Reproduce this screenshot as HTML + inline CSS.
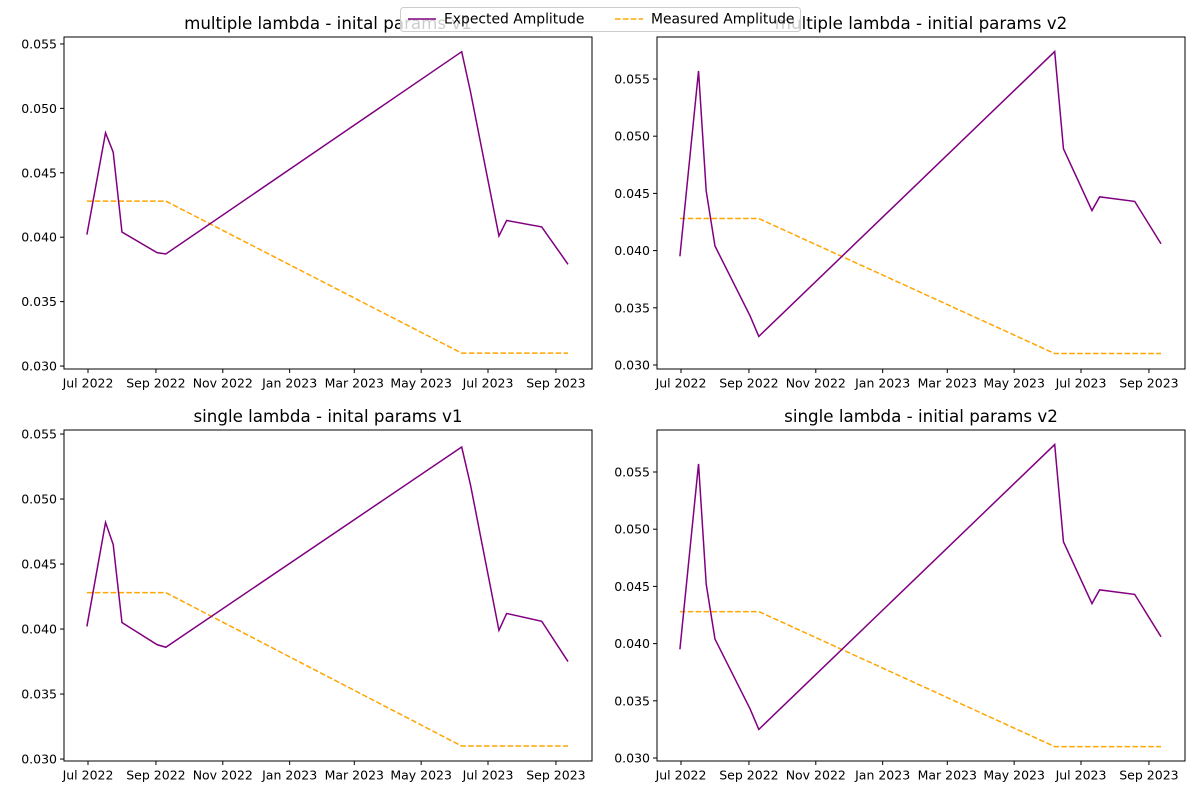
<!DOCTYPE html>
<html><head><meta charset="utf-8"><style>
body{margin:0;background:#fff;}
svg{font-family:"DejaVu Sans","Liberation Sans",sans-serif;}
</style></head><body>
<svg id="fig" width="1200" height="800" xmlns="http://www.w3.org/2000/svg"></svg>
<script>
const tickDays=[0,62,123,184,243,304,365,427];
const tickLabels=["Jul 2022","Sep 2022","Nov 2022","Jan 2023","Mar 2023","May 2023","Jul 2023","Sep 2023"];
const expDays=[-1,16,23,31,63,71,341,349,375,382,414,438];
const measDays=[-1,71,341,438];
const measVals=[0.0428,0.0428,0.0310,0.0310];
const expV1top=[0.0402,0.0481,0.0466,0.0404,0.0388,0.0387,0.0544,0.0513,0.0401,0.0413,0.0408,0.0379];
const expV2top=[0.0395,0.0557,0.0452,0.0404,0.0343,0.0325,0.0574,0.0489,0.0435,0.0447,0.0443,0.0406];
const expV1bot=[0.0402,0.0482,0.0465,0.0405,0.0388,0.0386,0.0540,0.0511,0.0399,0.0412,0.0406,0.0375];
const expV2bot=[0.0395,0.0557,0.0452,0.0404,0.0343,0.0325,0.0574,0.0489,0.0435,0.0447,0.0443,0.0406];
const yTicks=[0.030,0.035,0.040,0.045,0.050,0.055];
const panels=[
 {name:"top-left",title:"multiple lambda - inital params v1",x0:64,x1:592,y0:37,y1:369,ymin:0.02977,ymax:0.05554,vals:expV1top},
 {name:"top-right",title:"multiple lambda - initial params v2",x0:657,x1:1185,y0:37,y1:369,ymin:0.02965,ymax:0.05867,vals:expV2top},
 {name:"bottom-left",title:"single lambda - inital params v1",x0:64,x1:592,y0:430,y1:761,ymin:0.02985,ymax:0.05531,vals:expV1bot},
 {name:"bottom-right",title:"single lambda - initial params v2",x0:657,x1:1185,y0:430,y1:761,ymin:0.02974,ymax:0.05867,vals:expV2bot}
];
const NS="http://www.w3.org/2000/svg";
const svg=document.getElementById('fig');
function mk(tag,attrs,parent){const e=document.createElementNS(NS,tag);for(const k in attrs)e.setAttribute(k,attrs[k]);(parent||svg).appendChild(e);return e;}
const dmin=-21.9,dmax=459.9;
panels.forEach(p=>{
 const g=mk('g',{});
 
 
 const xs=d=>p.x0+(d-dmin)/(dmax-dmin)*(p.x1-p.x0);
 const ys=v=>p.y1-(v-p.ymin)/(p.ymax-p.ymin)*(p.y1-p.y0);
 const t=mk('text',{x:(p.x0+p.x1)/2,y:p.y0-8,'text-anchor':'middle','font-size':16.7,fill:'#000'},g);
 t.textContent=p.title;
 
 
 tickDays.forEach((d,i)=>{const x=xs(d);
  mk('line',{x1:x,x2:x,y1:p.y1,y2:p.y1+4,stroke:'#000','stroke-width':1},g);
  const l=mk('text',{x:x,y:p.y1+18.5,'text-anchor':'middle','font-size':12.5,fill:'#000'},g);
  l.textContent=tickLabels[i];
  
  
 });
 yTicks.forEach(v=>{const y=ys(v);
  mk('line',{x1:p.x0-4,x2:p.x0,y1:y,y2:y,stroke:'#000','stroke-width':1},g);
  const l=mk('text',{x:p.x0-7,y:y+4.5,'text-anchor':'end','font-size':12.5,fill:'#000'},g);
  l.textContent=v.toFixed(3);
  
  
 });
 const m=mk('polyline',{points:measDays.map((d,i)=>xs(d)+','+ys(measVals[i])).join(' '),fill:'none',stroke:'orange','stroke-width':1.5,'stroke-dasharray':'5.5,2.4'},g);
 
 
 const e=mk('polyline',{points:expDays.map((d,i)=>xs(d)+','+ys(p.vals[i])).join(' '),fill:'none',stroke:'purple','stroke-width':1.5},g);
 
 
 const r=mk('rect',{x:p.x0,y:p.y0,width:p.x1-p.x0,height:p.y1-p.y0,fill:'none',stroke:'#000','stroke-width':1},g);
 
 
});
const lg=mk('g',{});


mk('rect',{x:400.5,y:7.5,width:400,height:24,rx:3,fill:'#fff','fill-opacity':0.8,stroke:'#ccc'},lg);
mk('line',{x1:408,x2:436,y1:19,y2:19,stroke:'purple','stroke-width':1.5},lg);
const t1=mk('text',{x:444,y:23.5,'font-size':13.9},lg);t1.textContent="Expected Amplitude";


mk('line',{x1:615,x2:643,y1:19,y2:19,stroke:'orange','stroke-width':1.5,'stroke-dasharray':'5.5,2.4'},lg);
const t2=mk('text',{x:651,y:23.5,'font-size':13.9},lg);t2.textContent="Measured Amplitude";


</script>
</body></html>
